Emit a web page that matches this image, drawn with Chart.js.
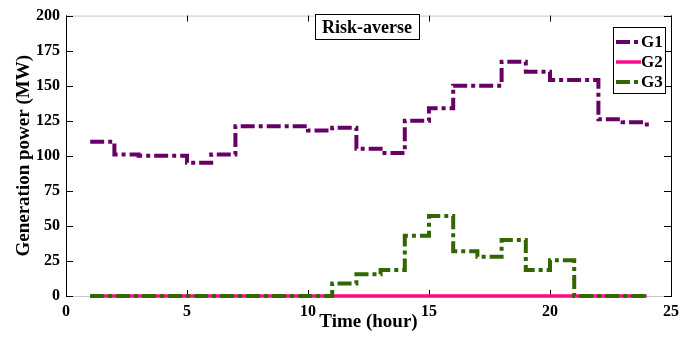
<!DOCTYPE html>
<html lang="en">
<head>
  <meta charset="UTF-8" />
  <title>Generation power - Risk-averse</title>
  <script src="https://cdn.jsdelivr.net/npm/chart.js"></script>
  <style>
    html, body { margin: 0; padding: 0; background: #fff; }
    #wrap { width: 685px; height: 338px; }
  </style>
</head>
<body>
  <div id="wrap"><canvas id="genChart" width="685" height="338"></canvas></div>

  <script>
    // hourly dispatch, stairs style (value holds until the next hour)
    const hours = [1, 2, 3, 4, 5, 6, 7, 8, 9, 10, 11, 12, 13, 14, 15, 16, 17, 18, 19, 20, 21, 22, 23, 24];
    const g1 = [110, 101, 100, 100, 95, 101, 121, 121, 121, 118, 120, 105, 102, 125, 134, 150, 150, 167, 160, 154, 154, 126, 124, 120];
    const g2 = [0, 0, 0, 0, 0, 0, 0, 0, 0, 0, 0, 0, 0, 0, 0, 0, 0, 0, 0, 0, 0, 0, 0, 0];
    const g3 = [0, 0, 0, 0, 0, 0, 0, 0, 0, 0, 9, 15.5, 18.5, 43, 57, 32, 28, 40, 18.5, 25.5, 0, 0, 0, 0];

    const xTicks = [0, 5, 10, 15, 20, 25];
    const yTicks = [0, 25, 50, 75, 100, 125, 150, 175, 200];

    const titulo = 'Risk-averse';
    const fonte = '"Liberation Serif", "Times New Roman", serif';

    const cores = { G1: '#660066', G2: '#ff0a8c', G3: '#336600' };
    const tracoPontilhado = [14, 4, 4, 4];

    const pares = ys => hours.map((h, i) => ({ x: h, y: ys[i] }));

    // box, inward ticks, title box and legend, drawn the MATLAB way
    const molduraPlugin = {
      id: 'moldura',
      beforeDatasetsDraw(chart) {
        const { ctx, chartArea: a, scales: { x, y } } = chart;
        ctx.save();
        ctx.lineWidth = 1;
        ctx.strokeStyle = '#c8c8c8';
        ctx.beginPath();
        ctx.moveTo(a.left, a.top + 0.5); ctx.lineTo(a.right, a.top + 0.5);
        ctx.moveTo(a.left, a.bottom + 0.5); ctx.lineTo(a.right, a.bottom + 0.5);
        ctx.stroke();
        ctx.strokeStyle = '#000';
        ctx.beginPath();
        ctx.moveTo(a.left + 0.5, a.top); ctx.lineTo(a.left + 0.5, a.bottom + 1);
        ctx.moveTo(a.right + 0.5, a.top); ctx.lineTo(a.right + 0.5, a.bottom + 1);
        xTicks.forEach(v => {
          const px = Math.round(x.getPixelForValue(v)) + 0.5;
          ctx.moveTo(px, a.bottom); ctx.lineTo(px, a.bottom - 6);
          ctx.moveTo(px, a.top); ctx.lineTo(px, a.top + 6);
        });
        yTicks.forEach(v => {
          const py = Math.round(y.getPixelForValue(v)) + 0.5;
          ctx.moveTo(a.left, py); ctx.lineTo(a.left + 7, py);
          ctx.moveTo(a.right, py); ctx.lineTo(a.right - 7, py);
        });
        ctx.stroke();
        ctx.restore();
      },
      afterDraw(chart) {
        const { ctx } = chart;
        ctx.save();

        // title box
        ctx.fillStyle = '#fff';
        ctx.fillRect(315, 14, 104, 25);
        ctx.strokeStyle = '#000';
        ctx.lineWidth = 1;
        ctx.strokeRect(315.5, 14.5, 104, 25);
        ctx.fillStyle = '#000';
        ctx.font = 'bold 18px ' + fonte;
        ctx.textAlign = 'center';
        ctx.textBaseline = 'middle';
        ctx.fillText(titulo, 367, 28);

        // legend
        ctx.fillStyle = '#fff';
        ctx.fillRect(613, 27, 52, 66);
        ctx.strokeRect(613.5, 27.5, 52, 66);
        ctx.font = 'bold 17px ' + fonte;
        ctx.textAlign = 'left';
        chart.data.datasets.forEach((ds, i) => {
          const ly = 42 + i * 20;
          ctx.strokeStyle = ds.borderColor;
          ctx.lineWidth = ds.borderWidth;
          ctx.setLineDash(ds.borderDash || []);
          ctx.beginPath();
          ctx.moveTo(616, ly); ctx.lineTo(641, ly);
          ctx.stroke();
          ctx.setLineDash([]);
          ctx.fillStyle = '#000';
          ctx.fillText(ds.label, 641, ly + 1);
        });
        ctx.restore();
      }
    };

    new Chart(document.getElementById('genChart'), {
      type: 'line',
      data: {
        datasets: [
          { label: 'G1', data: pares(g1), borderColor: cores.G1, borderWidth: 4, borderDash: tracoPontilhado, stepped: true, pointRadius: 0, clip: false, order: 2 },
          { label: 'G2', data: pares(g2), borderColor: cores.G2, borderWidth: 3.5, stepped: true, pointRadius: 0, clip: false, order: 1 },
          { label: 'G3', data: pares(g3), borderColor: cores.G3, borderWidth: 4, borderDash: tracoPontilhado, stepped: true, pointRadius: 0, clip: false, order: 0 }
        ]
      },
      options: {
        responsive: false,
        animation: false,
        layout: { padding: { top: 11, right: 12, left: 0, bottom: 0 } },
        plugins: {
          legend: { display: false },
          tooltip: { enabled: false }
        },
        scales: {
          x: {
            type: 'linear',
            min: 0,
            max: 25,
            afterBuildTicks: s => { s.ticks = xTicks.map(v => ({ value: v })); },
            afterFit: s => { s.height = 42; },
            grid: { display: false, drawTicks: false },
            border: { display: false },
            ticks: { color: '#000', padding: 6, maxRotation: 0, font: { family: fonte, size: 16, weight: 'bold' } },
            title: { display: true, text: 'Time (hour)', color: '#000', padding: { top: 0, bottom: 5 }, font: { family: fonte, size: 19, weight: 'bold' } }
          },
          y: {
            min: 0,
            max: 200,
            afterBuildTicks: s => { s.ticks = yTicks.map(v => ({ value: v })); },
            afterFit: s => { s.width = 66; },
            grid: { display: false, drawTicks: false },
            border: { display: false },
            ticks: { color: '#000', padding: 6, font: { family: fonte, size: 16, weight: 'bold' } },
            title: { display: true, text: 'Generation power (MW)', color: '#000', padding: { top: 13, bottom: 0 }, font: { family: fonte, size: 19, weight: 'bold' } }
          }
        }
      },
      plugins: [molduraPlugin]
    });
  </script>
</body>
</html>
